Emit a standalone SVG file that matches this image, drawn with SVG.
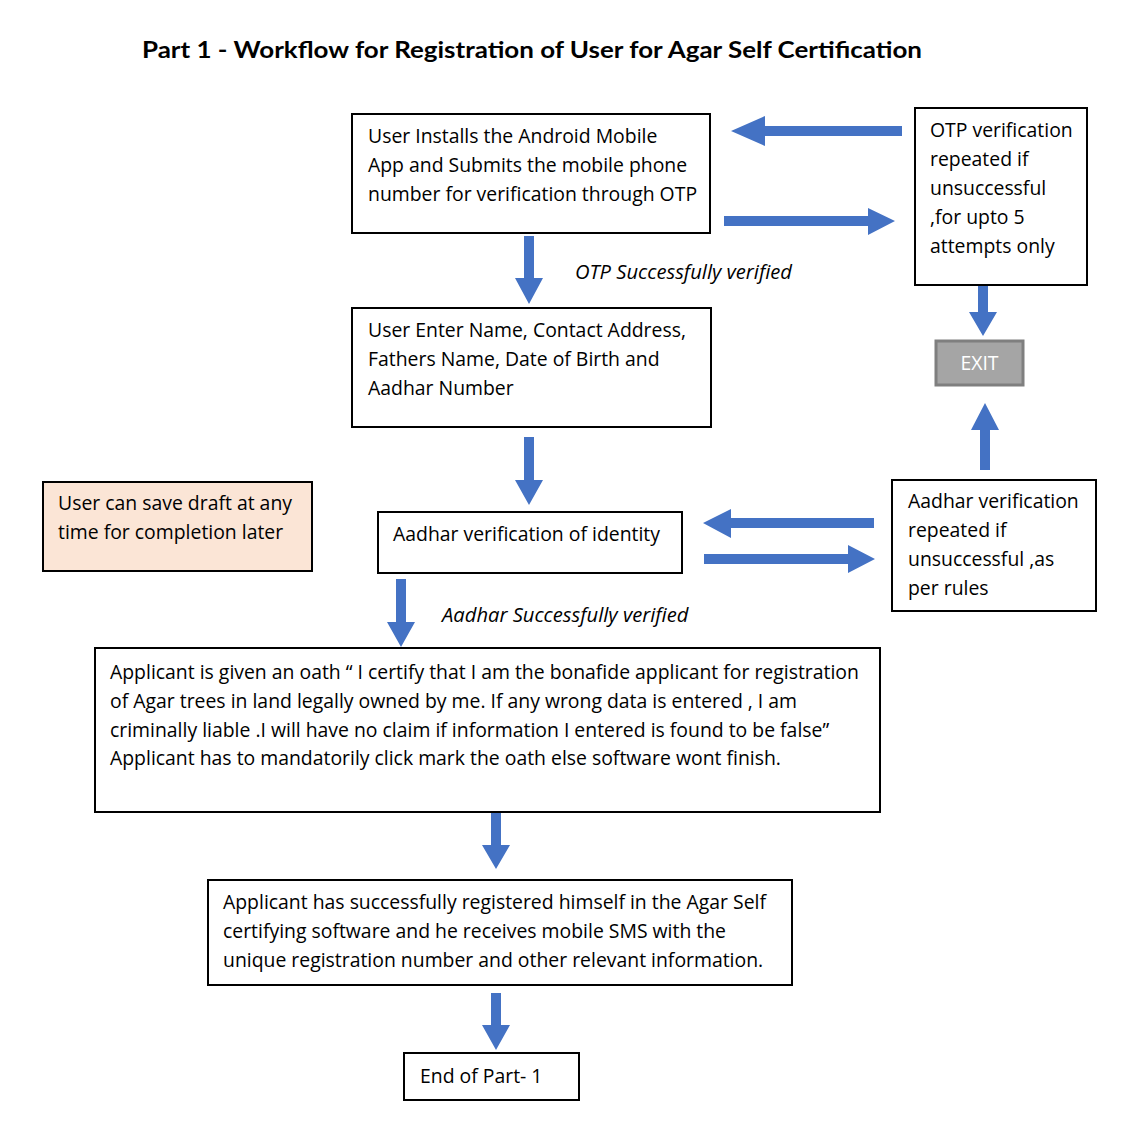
<svg xmlns="http://www.w3.org/2000/svg" width="1128" height="1131" viewBox="0 0 1128 1131">
<style>
.t{font-family:"Open Sans",Lato,"Liberation Sans",sans-serif;font-size:19.4px;fill:#000}
.i{font-family:"Open Sans",Lato,"Liberation Sans",sans-serif;font-size:20.2px;font-style:italic;fill:#000}
.b{fill:#fff;stroke:#000;stroke-width:2}
.a{fill:#4472C4}
</style>
<rect width="1128" height="1131" fill="#fff"/>
<text x="142" y="58" font-family="Lato,'Open Sans','Liberation Sans',sans-serif" font-size="23" font-weight="bold" textLength="780" lengthAdjust="spacingAndGlyphs">Part 1 - Workflow for Registration of User for Agar Self Certification</text>

<g id="connectors">
<polygon class="a" points="902,126 765,126 765,116 731,131 765,146 765,136 902,136"/>
<polygon class="a" points="724,216 868,216 868,208 895,221 868,235 868,226 724,226"/>
<polygon class="a" points="524,236 534,236 534,278 543,278 529,304 515,278 524,278"/>
<polygon class="a" points="978,286 988,286 988,312 997,312 983,336 969,312 978,312"/>
<polygon class="a" points="980,470 990,470 990,430 999,430 985,403 971,430 980,430"/>
<polygon class="a" points="524,437 534,437 534,480 543,480 529,505 515,480 524,480"/>
<polygon class="a" points="874,518 731,518 731,509 703,523 731,538 731,528 874,528"/>
<polygon class="a" points="704,554 848,554 848,545 875,559 848,573 848,564 704,564"/>
<polygon class="a" points="396,579 406,579 406,622 415,622 401,647 387,622 396,622"/>
<polygon class="a" points="491,813 501,813 501,845 510,845 496,869 482,845 491,845"/>
<polygon class="a" points="491,993 501,993 501,1025 510,1025 496,1050 482,1025 491,1025"/>
<text class="i" x="575" y="279">OTP Successfully verified</text>
<text class="i" x="442" y="622">Aadhar Successfully verified</text>
</g>

<g id="node-install">
<rect class="b" x="352" y="114" width="358" height="119"/>
<text class="t" x="368" y="143">User Installs the Android Mobile</text>
<text class="t" x="368" y="172">App and Submits the mobile phone</text>
<text class="t" x="368" y="201">number for verification through OTP</text>
</g>

<g id="node-otp-repeat">
<rect class="b" x="915" y="108" width="172" height="177"/>
<text class="t" x="930" y="137">OTP verification</text>
<text class="t" x="930" y="166">repeated if</text>
<text class="t" x="930" y="195">unsuccessful</text>
<text class="t" x="930" y="224">,for upto 5</text>
<text class="t" x="930" y="253">attempts only</text>
</g>

<g id="node-exit">
<rect x="936" y="341" width="87" height="44" fill="#A5A5A5" stroke="#7F7F7F" stroke-width="3"/>
<text class="t" x="979.5" y="370" text-anchor="middle" style="fill:#fff">EXIT</text>
</g>

<g id="node-details">
<rect class="b" x="352" y="308" width="359" height="119"/>
<text class="t" x="368" y="337">User Enter Name, Contact Address,</text>
<text class="t" x="368" y="366">Fathers Name, Date of Birth and</text>
<text class="t" x="368" y="395">Aadhar Number</text>
</g>

<g id="node-draft">
<rect x="43" y="482" width="269" height="89" fill="#FBE5D6" stroke="#000" stroke-width="2"/>
<text class="t" x="58" y="510">User can save draft at any</text>
<text class="t" x="58" y="539">time for completion later</text>
</g>

<g id="node-aadhar">
<rect class="b" x="378" y="512" width="304" height="61"/>
<text class="t" x="393" y="541">Aadhar verification of identity</text>
</g>

<g id="node-aadhar-repeat">
<rect class="b" x="892" y="480" width="204" height="131"/>
<text class="t" x="908" y="508">Aadhar verification</text>
<text class="t" x="908" y="537">repeated if</text>
<text class="t" x="908" y="566">unsuccessful ,as</text>
<text class="t" x="908" y="595">per rules</text>
</g>

<g id="node-oath">
<rect class="b" x="95" y="648" width="785" height="164"/>
<text class="t" x="110" y="679">Applicant is given an oath “ I certify that I am the bonafide applicant for registration</text>
<text class="t" x="110" y="708">of Agar trees in land legally owned by me. If any wrong data is entered , I am</text>
<text class="t" x="110" y="737">criminally liable .I will have no claim if information I entered is found to be false”</text>
<text class="t" x="110" y="765">Applicant has to mandatorily click mark the oath else software wont finish.</text>
</g>

<g id="node-registered">
<rect class="b" x="208" y="880" width="584" height="105"/>
<text class="t" x="223" y="909">Applicant has successfully registered himself in the Agar Self</text>
<text class="t" x="223" y="938">certifying software and he receives mobile SMS with the</text>
<text class="t" x="223" y="967">unique registration number and other relevant information.</text>
</g>

<g id="node-end">
<rect class="b" x="404" y="1053" width="175" height="47"/>
<text class="t" x="420" y="1083">End of Part- 1</text>
</g>
</svg>
